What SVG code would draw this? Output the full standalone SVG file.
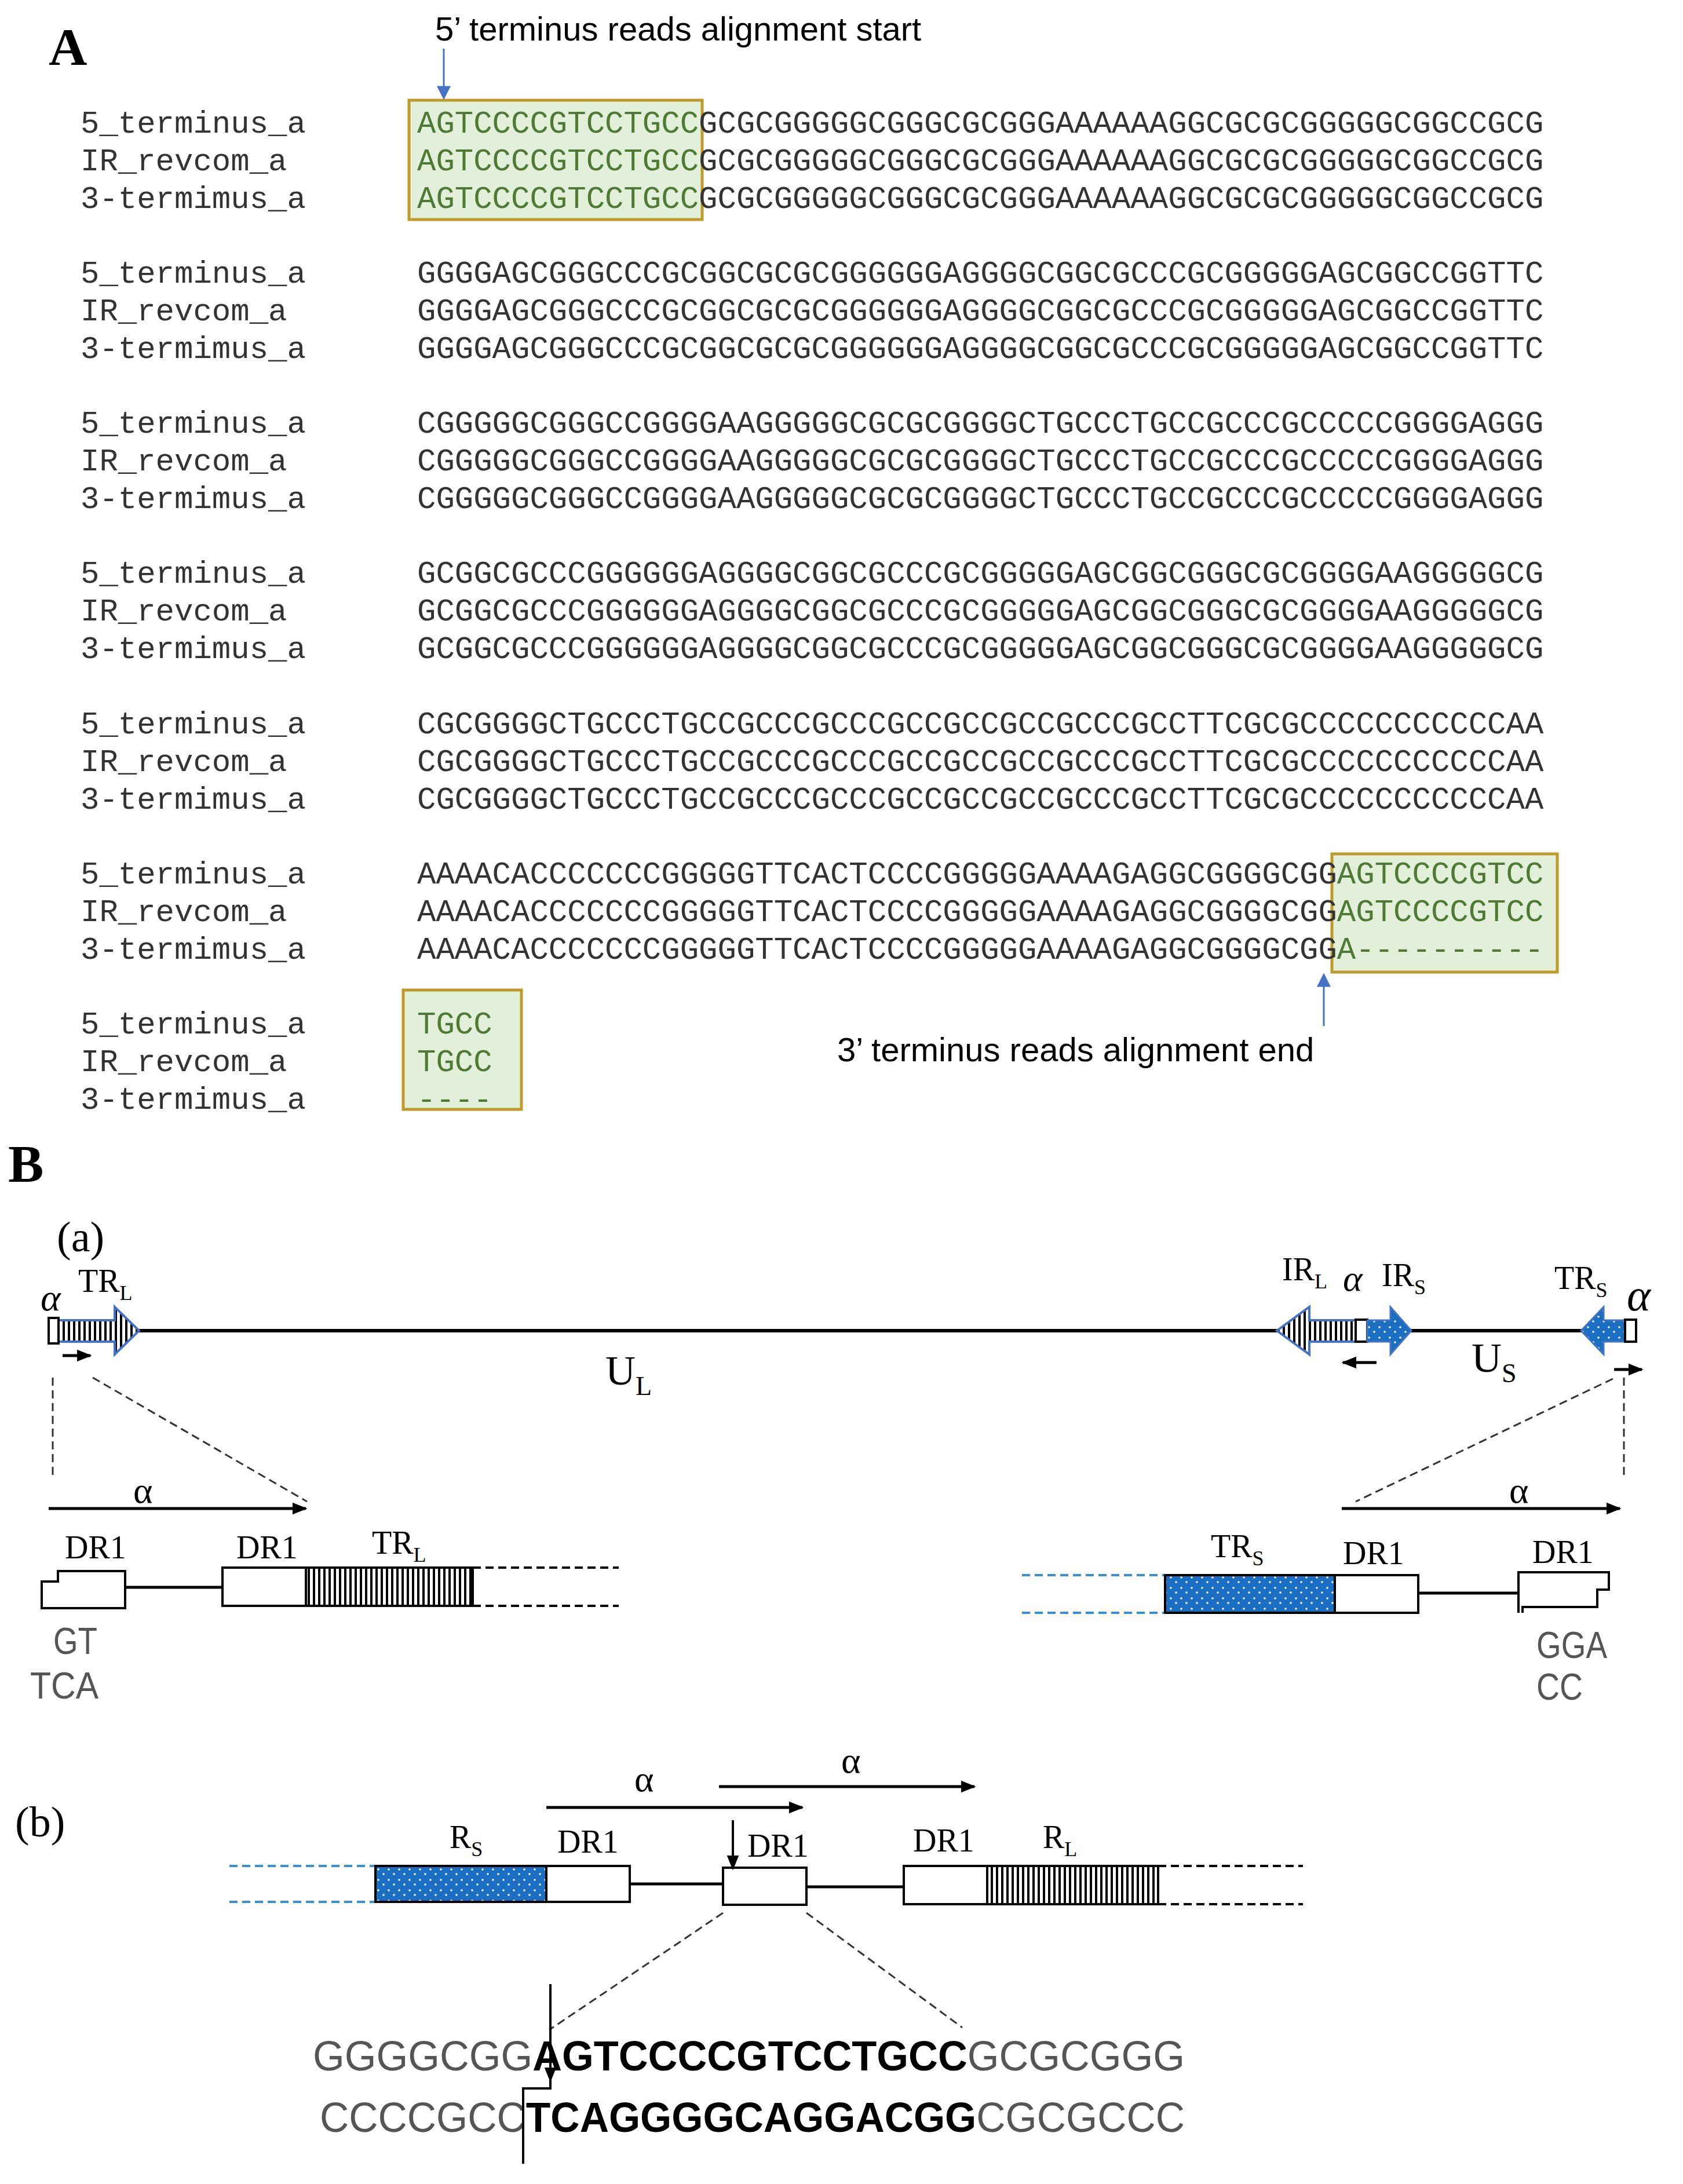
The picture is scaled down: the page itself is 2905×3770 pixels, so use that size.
<svg xmlns="http://www.w3.org/2000/svg" width="2905" height="3770" viewBox="0 0 2905 3770">
<style>
.m{font-family:"Liberation Mono",monospace;font-size:54px;fill:#333}
.g{fill:#4e7a36}
.ar{font-family:"Liberation Sans",Arial,sans-serif;font-size:58px;fill:#000}
.sf{font-family:"Liberation Serif","Times New Roman",serif;fill:#000}
.box{fill:#e2efd9;stroke:#c09a2a;stroke-width:5}
.ln{stroke:#000;stroke-width:5;fill:none}
.dsh{stroke:#333;stroke-width:3;stroke-dasharray:14 8;fill:none}
.bd{stroke:#3a8fd9;stroke-width:4;stroke-dasharray:14 8;fill:none}
.bk{stroke:#000;stroke-width:4;stroke-dasharray:14 8;fill:none}
.wb{fill:#fff;stroke:#000;stroke-width:4}
.gr{font-family:"Liberation Sans",Arial,sans-serif;font-size:64px;fill:#555}
</style>
<defs>
<pattern id="str" width="9" height="10" patternUnits="userSpaceOnUse"><rect width="9" height="10" fill="#fff"/><rect width="4" height="10" fill="#000"/></pattern>
<pattern id="dot" width="18" height="18" patternUnits="userSpaceOnUse"><rect width="18" height="18" fill="#1b6fc2"/><circle cx="5" cy="5" r="1.8" fill="#fff"/><circle cx="14" cy="13" r="1.8" fill="#fff"/></pattern>
<marker id="ahb" viewBox="0 0 10 10" refX="9" refY="5" markerWidth="24" markerHeight="24" orient="auto" markerUnits="userSpaceOnUse"><path d="M0,0 L10,5 L0,10z" fill="#4472c4"/></marker>
<marker id="ahk" viewBox="0 0 10 10" refX="9" refY="5" markerWidth="26" markerHeight="26" orient="auto" markerUnits="userSpaceOnUse"><path d="M0,1 L10,5 L0,9z" fill="#000"/></marker>
</defs>
<rect width="2905" height="3770" fill="#fff"/>

<g id="panelA">
<text x="84" y="112" class="sf" font-size="92" font-weight="bold">A</text>
<text x="751" y="70" class="ar">5’ terminus reads alignment start</text>
<line x1="766" y1="84" x2="766" y2="170" stroke="#4472c4" stroke-width="3" marker-end="url(#ahb)"/>
<rect class="box" x="706" y="173" width="506" height="206"/>
<rect class="box" x="2299" y="1474" width="389" height="204"/>
<rect class="box" x="696" y="1709" width="204" height="206"/>
<line x1="2285" y1="1771" x2="2285" y2="1682" stroke="#4472c4" stroke-width="3" marker-end="url(#ahb)"/>
<text x="1445" y="1832" class="ar">3’ terminus reads alignment end</text>

<g class="m">
<text x="139" y="229">5_terminus_a</text><text x="139" y="294">IR_revcom_a</text><text x="139" y="359">3-termimus_a</text>
<text x="720" y="229"><tspan class="g">AGTCCCCGTCCTGCC</tspan>GCGCGGGGGCGGGCGCGGGAAAAAAGGCGCGCGGGGGCGGCCGCG</text>
<text x="720" y="294"><tspan class="g">AGTCCCCGTCCTGCC</tspan>GCGCGGGGGCGGGCGCGGGAAAAAAGGCGCGCGGGGGCGGCCGCG</text>
<text x="720" y="359"><tspan class="g">AGTCCCCGTCCTGCC</tspan>GCGCGGGGGCGGGCGCGGGAAAAAAGGCGCGCGGGGGCGGCCGCG</text>

<text x="139" y="488">5_terminus_a</text><text x="139" y="553">IR_revcom_a</text><text x="139" y="618">3-termimus_a</text>
<text x="720" y="488">GGGGAGCGGGCCCGCGGCGCGCGGGGGGAGGGGCGGCGCCCGCGGGGGAGCGGCCGGTTC</text>
<text x="720" y="553">GGGGAGCGGGCCCGCGGCGCGCGGGGGGAGGGGCGGCGCCCGCGGGGGAGCGGCCGGTTC</text>
<text x="720" y="618">GGGGAGCGGGCCCGCGGCGCGCGGGGGGAGGGGCGGCGCCCGCGGGGGAGCGGCCGGTTC</text>

<text x="139" y="747">5_terminus_a</text><text x="139" y="812">IR_revcom_a</text><text x="139" y="877">3-termimus_a</text>
<text x="720" y="747">CGGGGGCGGGCCGGGGAAGGGGGCGCGCGGGGCTGCCCTGCCGCCCGCCCCCGGGGAGGG</text>
<text x="720" y="812">CGGGGGCGGGCCGGGGAAGGGGGCGCGCGGGGCTGCCCTGCCGCCCGCCCCCGGGGAGGG</text>
<text x="720" y="877">CGGGGGCGGGCCGGGGAAGGGGGCGCGCGGGGCTGCCCTGCCGCCCGCCCCCGGGGAGGG</text>

<text x="139" y="1006">5_terminus_a</text><text x="139" y="1071">IR_revcom_a</text><text x="139" y="1136">3-termimus_a</text>
<text x="720" y="1006">GCGGCGCCCGGGGGGAGGGGCGGCGCCCGCGGGGGAGCGGCGGGCGCGGGGAAGGGGGCG</text>
<text x="720" y="1071">GCGGCGCCCGGGGGGAGGGGCGGCGCCCGCGGGGGAGCGGCGGGCGCGGGGAAGGGGGCG</text>
<text x="720" y="1136">GCGGCGCCCGGGGGGAGGGGCGGCGCCCGCGGGGGAGCGGCGGGCGCGGGGAAGGGGGCG</text>

<text x="139" y="1266">5_terminus_a</text><text x="139" y="1331">IR_revcom_a</text><text x="139" y="1396">3-termimus_a</text>
<text x="720" y="1266">CGCGGGGCTGCCCTGCCGCCCGCCCGCCGCCGCCGCCCGCCTTCGCGCCCCCCCCCCCAA</text>
<text x="720" y="1331">CGCGGGGCTGCCCTGCCGCCCGCCCGCCGCCGCCGCCCGCCTTCGCGCCCCCCCCCCCAA</text>
<text x="720" y="1396">CGCGGGGCTGCCCTGCCGCCCGCCCGCCGCCGCCGCCCGCCTTCGCGCCCCCCCCCCCAA</text>

<text x="139" y="1525">5_terminus_a</text><text x="139" y="1590">IR_revcom_a</text><text x="139" y="1655">3-termimus_a</text>
<text x="720" y="1525">AAAACACCCCCCCGGGGGTTCACTCCCCGGGGGAAAAGAGGCGGGGCGG<tspan class="g">AGTCCCCGTCC</tspan></text>
<text x="720" y="1590">AAAACACCCCCCCGGGGGTTCACTCCCCGGGGGAAAAGAGGCGGGGCGG<tspan class="g">AGTCCCCGTCC</tspan></text>
<text x="720" y="1655">AAAACACCCCCCCGGGGGTTCACTCCCCGGGGGAAAAGAGGCGGGGCGG<tspan class="g">A----------</tspan></text>

<text x="139" y="1784">5_terminus_a</text><text x="139" y="1849">IR_revcom_a</text><text x="139" y="1914">3-termimus_a</text>
<text x="720" y="1784" class="g">TGCC</text>
<text x="720" y="1849" class="g">TGCC</text>
<text x="720" y="1914" class="g">----</text>
</g>
</g>

<g id="panelB">
<text x="14" y="2040" class="sf" font-size="92" font-weight="bold">B</text>
<text x="98" y="2160" class="sf" font-size="74">(a)</text>

<g id="genome">
<line x1="235" y1="2297" x2="2785" y2="2297" stroke="#000" stroke-width="6"/>
<path d="M101,2279 H198 V2256 L240,2297 L198,2338 V2316 H101 Z" fill="url(#str)" stroke="#4472c4" stroke-width="4"/>
<rect x="84" y="2275" width="17" height="44" class="wb"/>
<text x="70" y="2262" class="sf" font-size="66" font-style="italic">α</text>
<text x="135" y="2230" class="sf" font-size="56">TR<tspan font-size="36" dy="14">L</tspan></text>
<line x1="108" y1="2340" x2="156" y2="2340" stroke="#000" stroke-width="5" marker-end="url(#ahk)"/>
<text x="1045" y="2390" class="sf" font-size="72">U<tspan font-size="46" dy="18">L</tspan></text>

<path d="M2340,2279 H2260 V2256 L2204,2297 L2260,2338 V2316 H2340 Z" fill="url(#str)" stroke="#4472c4" stroke-width="4"/>
<rect x="2340" y="2278" width="20" height="38" class="wb"/>
<path d="M2360,2279 H2400 V2256 L2436,2297 L2400,2338 V2316 H2360 Z" fill="url(#dot)" stroke="#4472c4" stroke-width="3"/>
<text x="2213" y="2210" class="sf" font-size="56">IR<tspan font-size="36" dy="14">L</tspan></text>
<text x="2318" y="2228" class="sf" font-size="64" font-style="italic">α</text>
<text x="2385" y="2220" class="sf" font-size="56">IR<tspan font-size="36" dy="14">S</tspan></text>
<line x1="2376" y1="2352" x2="2318" y2="2352" stroke="#000" stroke-width="5" marker-end="url(#ahk)"/>
<text x="2540" y="2368" class="sf" font-size="72">U<tspan font-size="46" dy="18">S</tspan></text>

<path d="M2805,2279 H2768 V2256 L2729,2297 L2768,2338 V2316 H2805 Z" fill="url(#dot)" stroke="#4472c4" stroke-width="3"/>
<rect x="2805" y="2278" width="19" height="38" class="wb"/>
<text x="2683" y="2225" class="sf" font-size="56">TR<tspan font-size="36" dy="14">S</tspan></text>
<text x="2808" y="2262" class="sf" font-size="78" font-style="italic">α</text>
<line x1="2786" y1="2364" x2="2834" y2="2364" stroke="#000" stroke-width="5" marker-end="url(#ahk)"/>
</g>

<g id="connectors">
<line x1="91" y1="2378" x2="91" y2="2546" class="dsh"/>
<line x1="160" y1="2378" x2="530" y2="2592" class="dsh"/>
<line x1="2803" y1="2378" x2="2803" y2="2546" class="dsh"/>
<line x1="2784" y1="2380" x2="2340" y2="2592" class="dsh"/>
<line x1="84" y1="2604" x2="528" y2="2604" stroke="#000" stroke-width="5" marker-end="url(#ahk)"/>
<line x1="2316" y1="2604" x2="2796" y2="2604" stroke="#000" stroke-width="5" marker-end="url(#ahk)"/>
<line x1="943" y1="3120" x2="1385" y2="3120" stroke="#000" stroke-width="5" marker-end="url(#ahk)"/>
<line x1="1241" y1="3084" x2="1682" y2="3084" stroke="#000" stroke-width="5" marker-end="url(#ahk)"/>
<line x1="1248" y1="3302" x2="948" y2="3504" class="dsh"/>
<line x1="1392" y1="3302" x2="1661" y2="3500" class="dsh"/>
</g>

<text x="230" y="2594" class="sf" font-size="64">α</text>
<text x="2605" y="2594" class="sf" font-size="64">α</text>

<g id="leftStruct">
<text x="112" y="2690" class="sf" font-size="56">DR1</text>
<path d="M72,2776 V2730 H100 V2712 H216 V2776 Z" fill="#fff" stroke="#000" stroke-width="4"/>
<line x1="216" y1="2740" x2="384" y2="2740" class="ln" stroke-width="4"/>
<rect x="384" y="2706" width="144" height="66" class="wb"/>
<rect x="528" y="2706" width="288" height="66" fill="url(#str)" stroke="#000" stroke-width="4"/>
<line x1="816" y1="2706" x2="1068" y2="2706" class="bk"/>
<line x1="816" y1="2772" x2="1068" y2="2772" class="bk"/>
<text x="408" y="2690" class="sf" font-size="56">DR1</text>
<text x="642" y="2682" class="sf" font-size="56">TR<tspan font-size="36" dy="14">L</tspan></text>
<text x="92" y="2855" class="gr" textLength="76" lengthAdjust="spacingAndGlyphs">GT</text>
<text x="52" y="2932" class="gr" textLength="118" lengthAdjust="spacingAndGlyphs">TCA</text>
</g>

<g id="rightStruct">
<line x1="1764" y1="2719" x2="2011" y2="2719" class="bd"/>
<line x1="1764" y1="2784" x2="2011" y2="2784" class="bd"/>
<rect x="2011" y="2719" width="293" height="65" fill="url(#dot)" stroke="#000" stroke-width="4"/>
<rect x="2304" y="2719" width="144" height="65" class="wb"/>
<line x1="2448" y1="2750" x2="2621" y2="2750" class="ln" stroke-width="4"/>
<path d="M2621,2784 V2714 H2777 V2744 H2757 V2774 H2628 V2784" fill="#fff" stroke="#000" stroke-width="4"/>
<text x="2090" y="2688" class="sf" font-size="56">TR<tspan font-size="36" dy="14">S</tspan></text>
<text x="2318" y="2700" class="sf" font-size="56">DR1</text>
<text x="2645" y="2698" class="sf" font-size="56">DR1</text>
<text x="2652" y="2862" class="gr" textLength="122" lengthAdjust="spacingAndGlyphs">GGA</text>
<text x="2652" y="2934" class="gr" textLength="80" lengthAdjust="spacingAndGlyphs">CC</text>
</g>

<text x="26" y="3170" class="sf" font-size="74">(b)</text>
<text x="1095" y="3092" class="sf" font-size="64">α</text>
<text x="1452" y="3060" class="sf" font-size="64">α</text>

<g id="bStruct">
<line x1="396" y1="3221" x2="648" y2="3221" class="bd"/>
<line x1="396" y1="3283" x2="648" y2="3283" class="bd"/>
<rect x="648" y="3221" width="295" height="62" fill="url(#dot)" stroke="#000" stroke-width="4"/>
<rect x="943" y="3221" width="144" height="62" class="wb"/>
<line x1="1087" y1="3252" x2="1248" y2="3252" class="ln" stroke-width="4"/>
<rect x="1248" y="3224" width="144" height="64" class="wb"/>
<line x1="1392" y1="3257" x2="1560" y2="3257" class="ln" stroke-width="4"/>
<rect x="1560" y="3221" width="144" height="66" class="wb"/>
<rect x="1704" y="3221" width="295" height="66" fill="url(#str)" stroke="#000" stroke-width="4"/>
<line x1="1999" y1="3221" x2="2249" y2="3221" class="bk"/>
<line x1="1999" y1="3287" x2="2249" y2="3287" class="bk"/>
<text x="776" y="3190" class="sf" font-size="56">R<tspan font-size="36" dy="14">S</tspan></text>
<text x="962" y="3198" class="sf" font-size="56">DR1</text>
<text x="1290" y="3205" class="sf" font-size="56">DR1</text>
<text x="1576" y="3196" class="sf" font-size="56">DR1</text>
<text x="1800" y="3190" class="sf" font-size="56">R<tspan font-size="36" dy="14">L</tspan></text>
<line x1="1265" y1="3142" x2="1265" y2="3226" stroke="#000" stroke-width="4" marker-end="url(#ahk)"/>
</g>

<g id="seq">
<text x="540" y="3574" font-family="Liberation Sans,Arial,sans-serif" font-size="72" fill="#555" textLength="1505" lengthAdjust="spacingAndGlyphs">GGGGCGG<tspan font-weight="bold" fill="#000">AGTCCCCGTCCTGCC</tspan>GCGCGGG</text>
<text x="552" y="3680" font-family="Liberation Sans,Arial,sans-serif" font-size="72" fill="#555" textLength="1493" lengthAdjust="spacingAndGlyphs">CCCCGCC<tspan font-weight="bold" fill="#000">TCAGGGGCAGGACGG</tspan>CGCGCCC</text>
<line x1="950" y1="3425" x2="950" y2="3592" stroke="#000" stroke-width="4" marker-end="url(#ahk)"/>
<path d="M950,3590 V3605 H903 V3735" fill="none" stroke="#000" stroke-width="4"/>
</g>
</g>
</svg>
